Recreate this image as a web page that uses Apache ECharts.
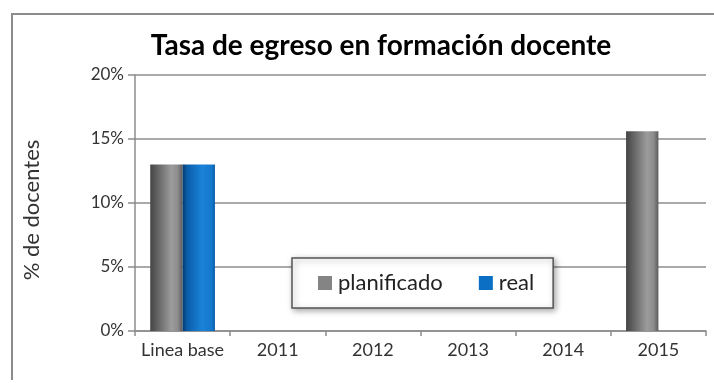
<!DOCTYPE html>
<html><head><meta charset="utf-8">
<script src="https://cdn.jsdelivr.net/npm/echarts@6/dist/echarts.min.js"></script>
<style>html,body{margin:0;padding:0;background:#fff}#c{width:714px;height:383px}</style>
</head><body><div id="c"></div>
<script>
const categories = ['Linea base', '2011', '2012', '2013', '2014', '2015'];
const planificado = [13.0, null, null, null, null, 15.6];
const real = [13.0, null, null, null, null, null];
const yTicks = [0, 5, 10, 15, 20];

const grayGrad = new echarts.graphic.LinearGradient(0, 0, 1, 0, [
  {offset: 0, color: '#444'}, {offset: 0.25, color: '#666'},
  {offset: 0.65, color: '#9c9c9c'}, {offset: 0.85, color: '#8c8c8c'}, {offset: 1, color: '#5c5c5c'}
]);
const blueGrad = new echarts.graphic.LinearGradient(0, 0, 1, 0, [
  {offset: 0, color: '#083a70'}, {offset: 0.15, color: '#0a5eaa'},
  {offset: 0.6, color: '#1a82d8'}, {offset: 0.9, color: '#1478cc'}, {offset: 1, color: '#0c5ca8'}
]);

const chart = echarts.init(document.getElementById('c'), null, {renderer: 'canvas'});
chart.setOption({
  animation: false,
  title: {
    text: 'Tasa de egreso en formación docente',
    left: 376, top: 27, textAlign: 'center',
    textStyle: {fontFamily: 'Lato', fontWeight: 'bold', fontSize: 28, color: '#000'}
  },
  graphic: [
    {type: 'polyline', shape: {points: [[12, 380], [12, 14], [714, 14]]}, style: {stroke: '#8c8c8c', lineWidth: 2, fill: null}}
  ],
  legend: {
    left: 292, top: 258,
    padding: [14, 19, 14, 26],
    itemGap: 36, itemWidth: 14, itemHeight: 14,
    backgroundColor: '#fff', borderColor: '#555', borderWidth: 1.5,
    shadowColor: 'rgba(0,0,0,0.35)', shadowBlur: 6, shadowOffsetX: 2, shadowOffsetY: 2,
    textStyle: {fontFamily: 'Lato', fontSize: 22, color: '#222', padding: [0, 0, 0, 1]},
    data: [
      {name: 'planificado', icon: 'rect', itemStyle: {color: '#848484'}},
      {name: 'real', icon: 'rect', itemStyle: {color: '#0b6fc4'}}
    ]
  },
  grid: {left: 135, right: 8, top: 75, bottom: 52},
  xAxis: {
    type: 'category', data: categories,
    axisLine: {lineStyle: {color: '#8c8c8c', width: 1.5}},
    axisTick: {show: true, length: 5, lineStyle: {color: '#8c8c8c', width: 1.5}},
    axisLabel: {interval: 0, fontFamily: 'Lato', fontSize: 18, color: '#333', margin: 10}
  },
  yAxis: {
    type: 'value', min: yTicks[0], max: yTicks[yTicks.length - 1], interval: 5,
    name: '% de docentes', nameLocation: 'middle', nameGap: 92, nameRotate: 90,
    nameTextStyle: {fontFamily: 'Lato', fontSize: 22, color: '#333', padding: [0, 14, 0, 0]},
    axisLine: {show: true, lineStyle: {color: '#8c8c8c', width: 1.5}},
    axisTick: {show: true, length: 7, lineStyle: {color: '#8c8c8c', width: 1.5}},
    splitLine: {lineStyle: {color: '#8c8c8c', width: 1.5}},
    axisLabel: {fontFamily: 'Lato', fontSize: 17, color: '#333', margin: 11, formatter: v => v + '%'}
  },
  series: [
    {name: 'planificado', type: 'bar', data: planificado, barGap: '0%', barCategoryGap: '32%',
      itemStyle: {color: grayGrad}},
    {name: 'real', type: 'bar', data: real, barGap: '0%', barCategoryGap: '32%',
      itemStyle: {color: blueGrad}}
  ]
});
</script></body></html>
